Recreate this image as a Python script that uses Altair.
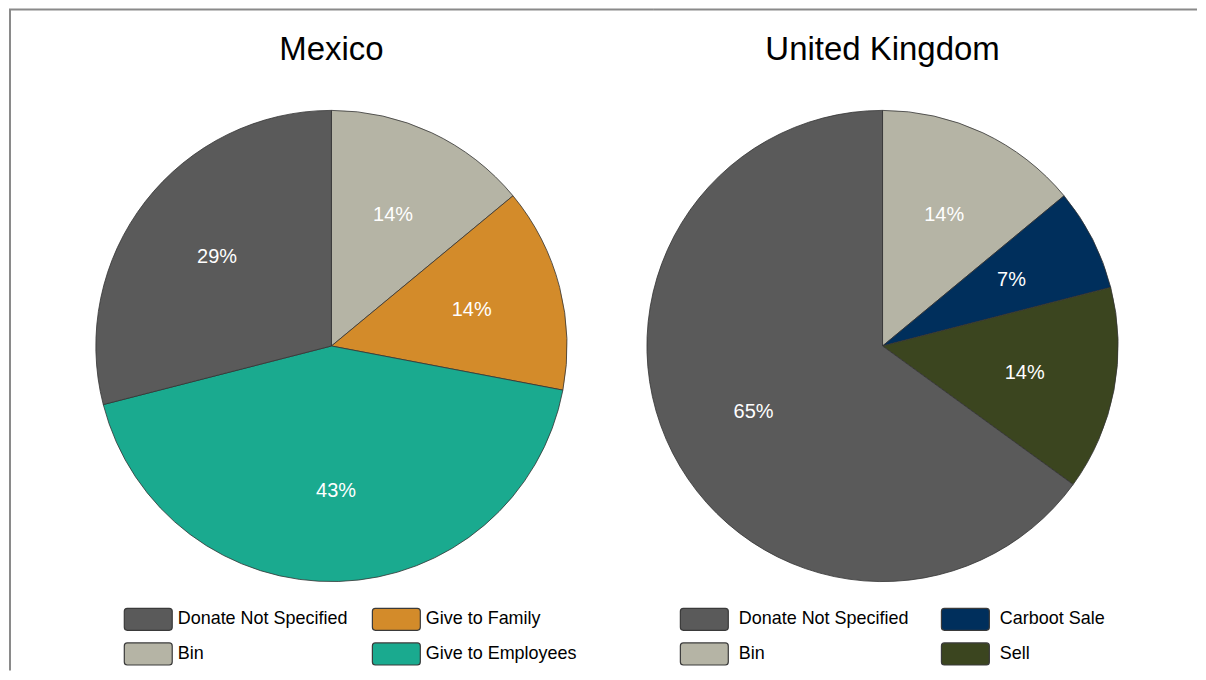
import altair as alt
import pandas as pd

FONT = "Liberation Sans"

# Mexico (slices listed clockwise from 12 o'clock)
mx_categories = ["Bin", "Give to Family", "Give to Employees", "Donate Not Specified"]
mx_values = [14, 14, 43, 29]
mx_legend_order = ["Donate Not Specified", "Bin", "Give to Family", "Give to Employees"]
mx_colors = ["#5a5a5a", "#b5b4a5", "#d38b2a", "#1aaa8f"]

# United Kingdom
uk_categories = ["Bin", "Carboot Sale", "Sell", "Donate Not Specified"]
uk_values = [14, 7, 14, 65]
uk_legend_order = ["Donate Not Specified", "Bin", "Carboot Sale", "Sell"]
uk_colors = ["#5a5a5a", "#b5b4a5", "#002f5c", "#3b451f"]

SWATCH = ("M-1.75,-0.92 L1.75,-0.92 Q2,-0.92 2,-0.67 L2,0.67 Q2,0.92 1.75,0.92 "
          "L-1.75,0.92 Q-2,0.92 -2,0.67 L-2,-0.67 Q-2,-0.92 -1.75,-0.92 Z")

H = 650
FRAME = "#8a8a8a"


def make_pie(title, cats, vals, legend_order, colors, width, legend_x,
             label_offset, col_pad, top_len, left_rule):
    df = pd.DataFrame({
        "category": cats,
        "value": vals,
        "slice": list(range(len(cats))),
        "label": [f"{v}%" for v in vals],
    })
    base = alt.Chart(df).encode(
        theta=alt.Theta("value:Q", stack=True),
        order=alt.Order("slice:Q"),
    )
    arcs = base.mark_arc(outerRadius=236, stroke="#333333", strokeWidth=0.8).encode(
        color=alt.Color(
            "category:N",
            scale=alt.Scale(domain=legend_order, range=colors),
            legend=alt.Legend(
                title=None,
                orient="none",
                legendX=legend_x,
                legendY=585.5,
                columns=2,
                symbolType=SWATCH,
                symbolSize=576,
                symbolOffset=12,
                symbolStrokeColor="#3a3a3a",
                symbolStrokeWidth=1.2,
                symbolOpacity=1,
                labelFont=FONT,
                labelFontSize=18,
                labelColor="#000000",
                labelOffset=label_offset,
                columnPadding=col_pad,
                rowPadding=7,
                padding=0,
                labelLimit=400,
            ),
        )
    )
    labels = base.mark_text(radius=145, font=FONT, fontSize=20, color="white").encode(
        text="label:N"
    )
    frame_df = pd.DataFrame({"f": [0]})
    top = alt.Chart(frame_df).mark_rule(color=FRAME, strokeWidth=2).encode(
        x=alt.value(0), x2=alt.value(top_len), y=alt.value(-12)
    )
    layers = [top]
    if left_rule:
        left = alt.Chart(frame_df).mark_rule(color=FRAME, strokeWidth=2).encode(
            x=alt.value(1), y=alt.value(-12), y2=alt.value(H)
        )
        layers.append(left)
    layers += [arcs, labels]
    return alt.layer(*layers).properties(
        width=width,
        height=H,
        title=alt.TitleParams(
            text=title,
            font=FONT,
            fontSize=33,
            fontWeight="normal",
            color="#000000",
            anchor="middle",
            baseline="alphabetic",
            offset=-85,
        ),
    )


mx = make_pie("Mexico", mx_categories, mx_values, mx_legend_order, mx_colors,
              646, 114.5, 16.5, 21.5, 646, True)
uk = make_pie("United Kingdom", uk_categories, uk_values, uk_legend_order, uk_colors,
              458, 25.5, 21.5, 29.5, 544, False)

chart = alt.hconcat(mx, uk, spacing=0, bounds="flush").resolve_scale(
    color="independent"
).properties(padding=0, background="white").configure_view(strokeWidth=0)

chart.save("out.html", embed_options={"renderer": "svg", "actions": False})
